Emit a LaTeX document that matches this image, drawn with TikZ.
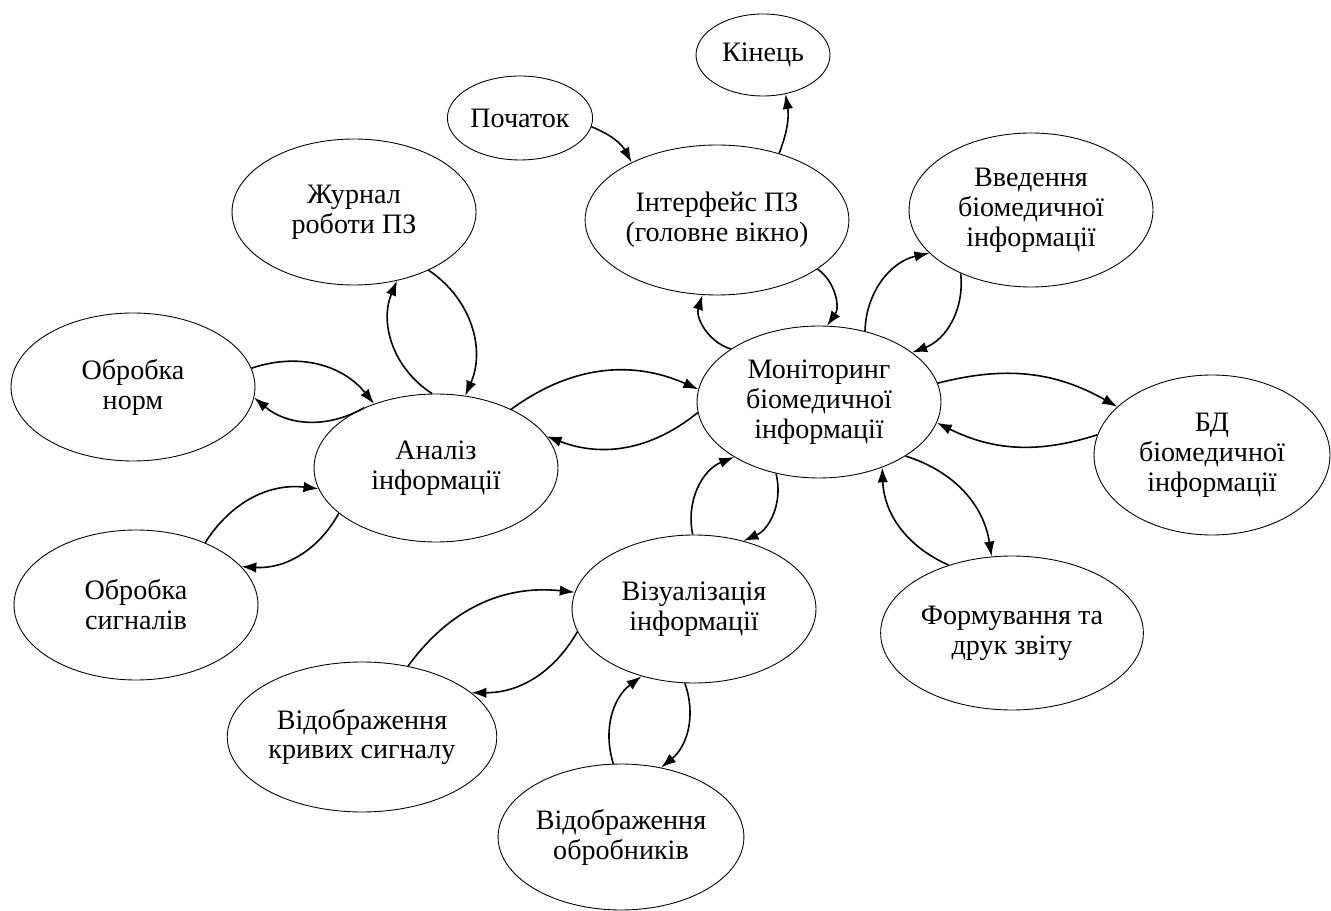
\documentclass[tikz,border=0pt]{standalone}
\usepackage{fontspec}
\setmainfont{Liberation Serif}
\usetikzlibrary{shapes,arrows.meta}

\begin{document}
\begin{tikzpicture}
  [
      x=0.02cm, y=0.02cm,
      big oval/.style={ellipse, draw, line width=0.5pt, align=center, inner sep=1pt, minimum width=4.88cm, minimum height=2.96cm, font=\fontsize{16}{17}\selectfont},
      small oval/.style={big oval, minimum width=2.68cm, minimum height=1.64cm},
      flow/.style={-{Latex[length=8.5pt, width=6pt]}, line width=0.9pt, bend left=#1},
      flow/.default=30,
    ]

    \useasboundingbox [fill=white] (0,0) rectangle (1331,-911);

    \node (kin) [small oval] at (763,-55) {Кінець};
    \node (poch) [small oval, minimum height=1.68cm] at (520,-118) {Початок};
    \node (inter) [big oval, minimum height=3cm] at (717,-220) {Інтерфейс ПЗ\\(головне вікно)};
    \node (zhur) [big oval, minimum height=2.92cm] at (354,-212) {Журнал\\роботи ПЗ};
    \node (norm) [big oval] at (133,-387) {Обробка\\норм};
    \node (anal) [big oval] at (436,-468) {Аналіз\\інформації};
    \node (mon) [big oval, minimum height=3.04cm] at (819,-402) {Моніторинг\\біомедичної\\інформації};
    \node (vved) [big oval, minimum height=3.08cm] at (1031,-210) {Введення\\біомедичної\\інформації};
    \node (bd) [big oval, minimum width=4.72cm, minimum height=3.2cm] at (1212,-455) {БД\\біомедичної\\інформації};
    \node (form) [big oval, minimum width=4.36cm, minimum height=3.08cm] at (1012,-633) {Формування та\\друк звіту};
    \node (viz) [big oval] at (694,-609) {Візуалізація\\інформації};
    \node (sig) [big oval, minimum height=3cm] at (136,-605) {Обробка\\сигналів};
    \node (krv) [big oval, minimum height=3cm] at (362,-737) {Відображення\\кривих сигналу};
    \node (obr) [big oval, minimum height=2.92cm] at (621,-837) {Відображення\\обробників};

    \draw [flow=20] (poch.-7) to (inter.146);
    \draw [flow=-15] (inter.47) to (kin.-60);

    \draw [flow=45] (mon.149) to (inter.-101);
    \draw [flow=45] (inter.-26) to (mon.84);
    \draw [flow=38] (mon.57) to (vved.203);
    \draw [flow=38] (vved.222) to (mon.28);
    \draw [flow=22] (mon.9) to (bd.153);
    \draw [flow=22] (bd.170) to (mon.-10);
    \draw [flow=32] (mon.-32) to (form.105);
    \draw [flow=32] (form.133) to (mon.-46);
    \draw [flow=40] (mon.239) to (viz.54);
    \draw [flow=40] (viz.91) to (mon.213);
    \draw [flow] (mon.185) to (anal.16);
    \draw [flow] (anal.38) to (mon.174);

    \draw [flow=40] (anal.93) to (zhur.-58);
    \draw [flow=40] (zhur.-38) to (anal.68);
    \draw [flow=35] (norm.9) to (anal.134);
    \draw [flow=35] (anal.140) to (norm.-5);
    \draw [flow=32] (sig.42) to (anal.190);
    \draw [flow=32] (anal.205) to (sig.20);

    \draw [flow] (krv.57) to (viz.172);
    \draw [flow] (viz.191) to (krv.22);
    \draw [flow=35] (obr.96) to (viz.232);
    \draw [flow=35] (viz.263) to (obr.60);

  \end{tikzpicture}
\end{document}
